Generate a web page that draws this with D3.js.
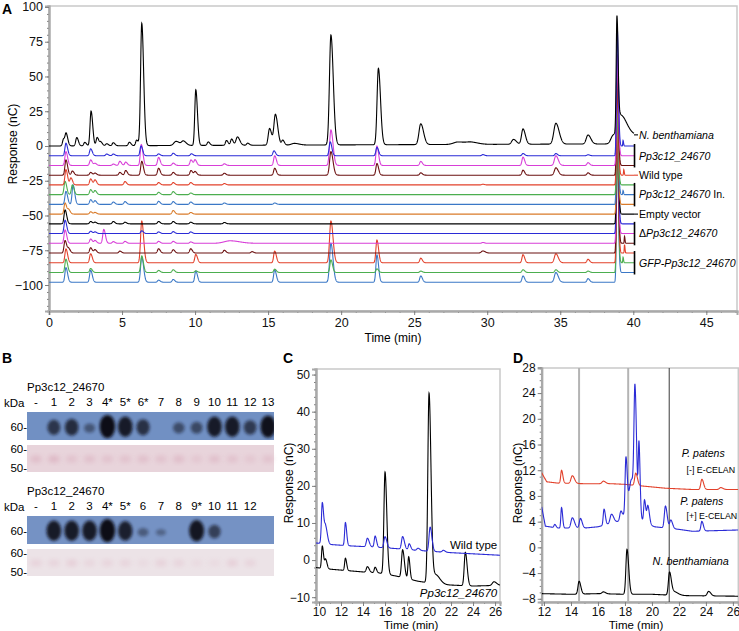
<!DOCTYPE html>
<html>
<head>
<meta charset="utf-8">
<script src="https://cdn.jsdelivr.net/npm/d3@7"></script>
<style>
  body { margin: 0; background: #fff; }
  svg { font-family: "Liberation Sans", Arial, sans-serif; }
</style>
</head>
<body>
<svg id="fig" width="739" height="631"></svg>
<script>
// ---------- Panel A : 15 stacked chromatograms ----------
const aColors = ['#000000', '#2b2bd6', '#d83fd8', '#6b1010', '#e2412b', '#4cae4f', '#3b78c6', '#d97b2a',
  '#000000', '#2b2bd6', '#d83fd8', '#6b1010', '#e2412b', '#4cae4f', '#3b78c6'];
const aOffsets = [0, -7, -14, -21, -28, -35, -42, -49, -56, -63, -70, -77, -84, -91, -98];
// peaks: [retention time (min), height (nC), width]
const aPeaks = [
  // N. benthamiana
  [[1.0, 5], [1.18, 8], [1.9, 6], [2.45, 2.5], [2.88, 25], [3.3, 6], [3.55, 2.5], [3.95, 1.5], [4.4, 2.2], [5.5, 2.5],
   [6.0, 4], [6.35, 88, 0.08], [8.7, 3, 0.15], [9.2, 3, 0.12], [10.05, 40], [10.9, 2.5], [12.15, 3.5], [12.5, 4.5],
   [12.9, 6, 0.1], [13.6, 1.5], [15.1, 12, 0.09], [15.5, 22, 0.1], [16.0, 3.5], [16.8, 1.2, 0.2], [19.3, 79, 0.1],
   [22.55, 55, 0.09], [25.45, 15, 0.12], [28.0, 1.8, 0.3], [28.9, 1.5, 0.3], [31.8, 3.5, 0.12], [32.45, 11, 0.1],
   [34.7, 15, 0.14], [36.9, 6.5, 0.12], [38.6, 5, 0.15], [38.88, 82, 0.05], [39.15, 14, 0.25]],
  // Pp3c12_24670
  [[1.16, 9], [2.85, 5], [3.95, 1.2], [4.4, 1.2], [6.3, 7], [7.5, 1.3], [8.5, 1.8], [9.75, 1.4], [15.4, 3.5],
   [19.25, 10], [22.45, 6], [29.7, 0.8], [32.45, 1.6], [34.7, 1.6], [36.9, 0.7], [38.9, 92, 0.05], [39.3, 4, 0.02]],
  [[1.16, 10], [2.85, 4], [3.15, 1.5], [4.4, 1], [4.85, 3], [5.25, 2.4], [6.32, 15], [7.5, 5.8], [8.5, 1.7], [9.72, 4],
   [10.0, 4], [12.0, 1.2], [15.45, 7], [19.3, 25.6, 0.09], [22.45, 14], [25.45, 2.9], [32.45, 6], [34.7, 7, 0.1],
   [36.9, 2], [38.9, 80, 0.05]],
  [[1.16, 11], [1.6, 3], [2.85, 2], [3.15, 1.5], [4.85, 2], [5.25, 3.4], [6.35, 10], [7.5, 5], [8.5, 2], [9.72, 3.4],
   [10.0, 2.6], [12.0, 1.4], [15.45, 5], [19.3, 17, 0.09], [22.45, 8.4], [25.45, 1.7], [32.45, 3.6], [34.7, 5.3, 0.1],
   [36.9, 1.7], [38.9, 75, 0.05]],
  // Wild type
  [[1.16, 11], [1.5, 5], [2.85, 4.3], [3.15, 3.6], [5.2, 2.4], [7.5, 1.7], [8.5, 1.7], [9.7, 1.7], [12.0, 1],
   [29.7, 0.5], [38.9, 70, 0.05], [39.35, 4, 0.02]],
  // Pp3c12_24670 In.
  [[1.1, 9.6], [1.6, 7], [2.85, 3.6], [3.15, 2.9], [7.5, 1.7], [8.5, 2.2], [9.7, 1.2], [38.9, 60, 0.05]],
  [[1.16, 9.4], [1.65, 14], [2.85, 3.4], [3.15, 2.6], [4.4, 1.7], [5.2, 2], [7.5, 2.2], [8.5, 2], [9.7, 1.7], [12.0, 1],
   [15.45, 1], [38.9, 80, 0.05], [39.3, 3, 0.02]],
  [[1.1, 8], [1.35, 3], [2.85, 1.7], [3.15, 1.2], [8.5, 2.6], [9.7, 1.2], [38.9, 65, 0.05]],
  // Empty vector
  [[1.1, 10], [2.85, 1.7], [3.15, 1.2], [4.4, 1.7], [5.2, 1.2], [7.5, 1.7], [8.5, 1.7], [9.7, 1.2], [12.0, 1],
   [38.9, 90, 0.05]],
  // delta Pp3c12_24670
  [[1.1, 9.6], [2.85, 1.7], [3.15, 1.2], [6.35, 2], [7.5, 1.2], [8.5, 1.4], [9.7, 1.2], [38.9, 100, 0.05]],
  [[1.1, 9.6], [2.85, 3.1], [3.15, 2], [3.75, 10], [4.4, 1.2], [5.2, 1.4], [7.5, 1.4], [8.5, 1.4], [9.7, 1],
   [12.4, 1.8, 0.4], [29.7, 0.6], [38.9, 95, 0.05]],
  [[1.1, 9], [1.35, 3], [2.85, 3.8], [3.15, 2.4], [4.85, 1.4], [7.5, 3.1], [8.5, 2.4], [9.7, 3.1], [12.0, 2],
   [13.9, 1], [29.7, 1.5, 0.1], [38.9, 95, 0.05], [39.4, 5, 0.02]],
  // GFP-Pp3c12_24670
  [[1.16, 10], [2.85, 6.5], [6.35, 30, 0.08], [10.05, 6], [15.45, 8.4], [19.3, 30, 0.09], [22.45, 16.3], [25.45, 3.3],
   [32.45, 5.8], [34.7, 6.5, 0.1], [36.9, 2.5], [38.9, 100, 0.05], [39.4, 6, 0.02]],
  [[1.16, 9.6], [2.85, 2.9], [6.35, 12], [7.5, 1.5], [8.5, 2], [10.05, 1.2], [15.45, 2.4], [19.3, 9], [22.45, 2.6],
   [25.45, 1], [32.45, 2], [34.7, 2], [36.9, 1], [38.9, 90, 0.05], [39.3, 4, 0.02]],
  [[1.16, 10.5], [2.85, 8.6], [6.35, 18, 0.08], [7.5, 1.5], [8.5, 2], [10.05, 8], [15.45, 8.9], [19.3, 28, 0.09],
   [22.45, 19.7], [25.45, 4.5], [32.45, 4.5], [34.7, 7, 0.1], [36.9, 2.6], [38.9, 100, 0.05]]
];
// baseline: flat, rises after the late eluting peak
const aBase = [[0, 0], [38.95, 0], [39.1, 7], [40.05, 7]];
const aBaseBlack = [[0, 0], [20, 0.8], [38.9, 1.5], [39.1, 8], [40.05, 8]];
const aLabelParts = [
  [['N. benthamiana', true]],
  [['Pp3c12_24670', true]],
  [['Wild type', false]],
  [['Pp3c12_24670', true], [' In.', false]],
  [['Empty vector', false]],
  [['\u0394', false], ['Pp3c12_24670', true]],
  [['GFP-Pp3c12_24670', true]]
];
const aLabelTraces = [[0], [1, 2, 3], [4], [5, 6, 7], [8], [9, 10, 11], [12, 13, 14]];
const aYTicks = [-100, -75, -50, -25, 0, 25, 50, 75, 100];
const aXTicks = [0, 5, 10, 15, 20, 25, 30, 35, 40, 45];

// ---------- Panel B : western blots ----------
const bLanesTop = ['-', '1', '2', '3', '4*', '5*', '6*', '7', '8', '9', '10', '11', '12', '13'];
const bBandsTop = [0, 0.55, 0.65, 0.2, 1, 0.85, 0.6, 0, 0.3, 0.35, 0.85, 0.85, 0.5, 0.95];
const bPonceauTop = [0.5, 0.6, 0.4, 0.45, 0.4, 0.4, 0.45, 0.4, 0.5, 0.3, 0.45, 0.4, 0.3, 0.4];
const bLanesBottom = ['-', '1', '2', '3', '4*', '5*', '6', '7', '8', '9*', '10', '11', '12'];
const bBandsBottom = [0, 0.85, 0.85, 0.85, 1, 0.8, 0.15, 0.04, 0, 0.9, 0.45, 0, 0, 0];
const bPonceauBottom = [0.4, 0.35, 0.45, 0.3, 0.35, 0.35, 0.2, 0.4, 0.35, 0.2, 0.2, 0.45, 0.35, 0];

// ---------- Panel C ----------
const cWildBase = [[9.7, 4.6], [10.2, 4.5], [11, 4.2], [13, 3.8], [15, 3.5], [17, 3.1], [19, 2.6], [22, 2], [26.45, 1.3]];
const cWildPeaks = [[10.3, 11, 0.08], [10.6, 4.5, 0.1], [12.4, 6.2, 0.07], [14.4, 2.3, 0.1], [15.1, 3, 0.08],
  [16.0, 3, 0.1], [17.6, 3.4, 0.1], [18.2, 1.6, 0.08], [19.0, 0.6, 0.1], [20.1, 6.5, 0.1], [21.3, 0.5, 0.1]];
const cMutBase = [[9.7, -2], [10.8, -2.4], [12, -2.7], [14, -3.2], [15.5, -3.5], [17, -4.3], [19, -5.7], [21, -6.6],
  [24, -7], [26.45, -6.8]];
const cMutPeaks = [[10.3, 6, 0.07], [10.6, 2.5, 0.08], [12.4, 3.3, 0.07], [14.4, 1.5, 0.1], [15.1, 1.5, 0.08],
  [16.0, 27.5, 0.1], [17.6, 7.5, 0.1], [18.15, 6, 0.07], [20.0, 51, 0.11], [20.6, 2.5, 0.25], [23.3, 9, 0.1],
  [25.9, 1, 0.15]];
const cYTicks = [-10, 0, 10, 20, 30, 40, 50];
const cXTicks = [10, 12, 14, 16, 18, 20, 22, 24, 26];

// ---------- Panel D ----------
const dMinusBase = [[11.83, 11.6], [12.2, 10.2], [13, 10.0], [15, 9.9], [17, 9.9], [18, 9.8], [19.5, 9.5], [21, 9.2],
  [23, 9.0], [26.4, 9.0]];
const dMinusPeaks = [[13.3, 2, 0.06], [14.1, 1.2, 0.1], [16.4, 0.4, 0.1], [18.8, 1.9, 0.08], [23.7, 1.6, 0.08],
  [25.1, 0.3, 0.1]];
const dPlusBase = [[11.83, 6.3], [12.1, 3.3], [13, 3.0], [15, 3.0], [16, 3.2], [17.8, 4.2], [18.0, 5.0], [20.2, 3.2],
  [22, 2.8], [23, 2.5], [26.4, 2.7]];
const dPlusPeaks = [[12.8, 0.5, 0.06], [13.3, 3.2, 0.05], [14.1, 1.6, 0.1], [14.7, 1.5, 0.08], [16.45, 2.5, 0.06],
  [17.0, 1.4, 0.1], [17.7, 1.5, 0.08], [18.07, 8.5, 0.06], [18.5, 6, 0.2], [18.74, 16.5, 0.07], [19.04, 10.5, 0.05],
  [19.45, 3.5, 0.06], [19.7, 2.8, 0.07], [21.0, 3.4, 0.08], [21.4, 1.3, 0.08], [23.7, 1.5, 0.07]];
const dBenthBase = [[11.83, -7.2], [14, -7.3], [16, -7.2], [18, -7.3], [20, -7.3], [22, -7.5], [26.4, -7.6]];
const dBenthPeaks = [[14.6, 2, 0.08], [16.4, 0.3, 0.1], [18.15, 7, 0.08], [21.3, 3.4, 0.08], [21.6, 0.6, 0.2],
  [24.2, 0.7, 0.1]];
const dMarkers = [14.6, 18.24, 21.28];
const dYTicks = [-8, -4, 0, 4, 8, 12, 16, 20, 24, 28];
const dXTicks = [12, 14, 16, 18, 20, 22, 24, 26];

// ---------- helpers ----------
const svg = d3.select('#fig');

// chromatogram trace from baseline points and peak table
const chrom = (peaks, base, t0, t1, offset = 0) => {
  const bl = d3.scaleLinear().domain(base.map(d => d[0])).range(base.map(d => d[1])).clamp(true);
  const ts = d3.range(t0, t1, 0.01).concat([t1]);
  return ts.map(t => {
    let v = offset + bl(t);
    for (const [c, h, w = 0.07] of peaks) {
      const s = t < c ? w : w * 1.6;
      v += h * Math.exp(-0.5 * ((t - c) / s) ** 2);
    }
    return [t, v];
  });
};

const styleAxis = (g, size) => {
  g.attr('font-family', null);
  g.select('.domain').attr('stroke', '#a9a9a9').attr('stroke-width', 2);
  g.selectAll('.tick line').attr('stroke', '#808080');
  g.selectAll('.tick text').attr('font-size', size).attr('fill', '#111');
};

const drawFrame = (g, x, y, xTicks, yTicks, xMinor, yMinor, id, size) => {
  const [x0, x1] = x.range();
  const [y0, y1] = y.range();
  g.append('rect').attr('x', x0).attr('y', y1).attr('width', x1 - x0).attr('height', y0 - y1)
    .attr('fill', 'none').attr('stroke', '#c9c9c9').attr('stroke-width', 1.5);
  g.append('defs').append('clipPath').attr('id', id)
    .append('rect').attr('x', x0).attr('y', y1).attr('width', x1 - x0).attr('height', y0 - y1);

  g.append('g').attr('transform', `translate(${x0},0)`)
    .call(d3.axisLeft(y).tickValues(yMinor).tickSize(2).tickFormat(''))
    .call(s => styleAxis(s, size));
  g.append('g').attr('transform', `translate(${x0},0)`)
    .call(d3.axisLeft(y).tickValues(yTicks).tickSize(4).tickPadding(2))
    .call(s => styleAxis(s, size));
  g.append('g').attr('transform', `translate(0,${y0})`)
    .call(d3.axisBottom(x).tickValues(xMinor).tickSize(2).tickFormat(''))
    .call(s => styleAxis(s, size));
  g.append('g').attr('transform', `translate(0,${y0})`)
    .call(d3.axisBottom(x).tickValues(xTicks).tickSize(4).tickPadding(size < 12.5 ? 1.5 : 3))
    .call(s => styleAxis(s, size));
};

const panelLetter = (x, y, t) => svg.append('text').attr('x', x).attr('y', y).attr('font-size', 14)
  .attr('font-weight', 'bold').text(t);

const yTitle = (x, y, size = 12.5) => svg.append('text').attr('transform', `translate(${x},${y}) rotate(-90)`)
  .attr('text-anchor', 'middle').attr('font-size', size).text('Response (nC)');

const xTitle = (x, y, size = 12.5) => svg.append('text').attr('x', x).attr('y', y)
  .attr('text-anchor', 'middle').attr('font-size', size).text('Time (min)');

// ---------- draw panel A ----------
const drawPanelA = () => {
  const g = svg.append('g');
  const x = d3.scaleLinear().domain([0, 47.1]).range([49, 737]);
  const y = d3.scaleLinear().domain([-118.7, 100.7]).range([311, 6]);
  drawFrame(g, x, y, aXTicks, aYTicks, d3.range(0, 48, 1), d3.range(-115, 101, 5), 'clipA', 12.5);

  const line = d3.line().x(d => x(d[0])).y(d => y(d[1]));
  const tEnd = 40.05;
  const traces = g.append('g').attr('clip-path', 'url(#clipA)');
  // draw bottom trace first so the top trace sits above
  d3.range(aPeaks.length).reverse().forEach(i => {
    const pts = chrom(aPeaks[i], i === 0 ? aBaseBlack : aBase, 0, tEnd, aOffsets[i]);
    traces.append('path').attr('d', line(pts)).attr('fill', 'none')
      .attr('stroke', aColors[i]).attr('stroke-width', 1.1);
  });

  const endY = i => y(aOffsets[i] + (i === 0 ? 8 : 7));
  const xe = x(tEnd);
  aLabelTraces.forEach((tr, k) => {
    const ys = tr.map(endY);
    if (tr.length > 1) {
      g.append('line').attr('x1', xe + 0.5).attr('x2', xe + 0.5)
        .attr('y1', d3.min(ys) - 2).attr('y2', d3.max(ys) + 2)
        .attr('stroke', '#000').attr('stroke-width', 1.6);
    } else {
      g.append('line').attr('x1', xe).attr('x2', xe + 4).attr('y1', ys[0]).attr('y2', ys[0])
        .attr('stroke', aColors[tr[0]]).attr('stroke-width', 1.1);
    }
    const t = g.append('text').attr('x', xe + 5).attr('y', d3.mean(ys)).attr('dy', '0.36em')
      .attr('font-size', 10.6);
    aLabelParts[k].forEach(([s, it]) => t.append('tspan').attr('font-style', it ? 'italic' : 'normal').text(s));
  });

  panelLetter(2, 14, 'A');
  yTitle(17, 144, 12);
  xTitle(393, 342, 12);
};

// ---------- draw panel B ----------
const drawPanelB = () => {
  const g = svg.append('g');
  const defs = g.append('defs');
  defs.append('filter').attr('id', 'blurBand').attr('x', '-50%').attr('y', '-50%')
    .attr('width', '200%').attr('height', '200%')
    .append('feGaussianBlur').attr('stdDeviation', 1.8);
  defs.append('filter').attr('id', 'blurPon').attr('x', '-50%').attr('y', '-50%')
    .attr('width', '200%').attr('height', '200%')
    .append('feGaussianBlur').attr('stdDeviation', 2.5);

  const lane = d3.scalePoint().domain(d3.range(14)).range([36, 268]);
  const blotX0 = 27, blotX1 = 274;

  const blot = (top, labels, bands, ponceau, blueFill, pinkFill, spot, id) => {
    g.append('text').attr('x', 27).attr('y', top - 18).attr('font-size', 11.5).text('Pp3c12_24670');
    g.append('text').attr('x', 4).attr('y', top - 2).attr('font-size', 11.5).text('kDa');
    labels.forEach((l, i) => g.append('text').attr('x', lane(i)).attr('y', top - 3)
      .attr('text-anchor', 'middle').attr('font-size', 11.5).text(l));

    const by = top + 3, bh = 28;
    g.append('defs').append('clipPath').attr('id', id)
      .append('rect').attr('x', blotX0).attr('y', by).attr('width', blotX1 - blotX0).attr('height', bh);
    g.append('rect').attr('x', blotX0).attr('y', by).attr('width', blotX1 - blotX0).attr('height', bh)
      .attr('fill', blueFill);
    const bandG = g.append('g').attr('clip-path', `url(#${id})`);
    bands.forEach((v, i) => {
      if (v <= 0) return;
      bandG.append('ellipse').attr('cx', lane(i)).attr('cy', by + bh / 2 + 2.5 - 2 * v)
        .attr('rx', 5 + 2.8 * v).attr('ry', 3 + 8.5 * v)
        .attr('fill', '#111118').attr('opacity', 0.3 + 0.7 * v).attr('filter', 'url(#blurBand)');
    });
    g.append('text').attr('x', 27).attr('y', by + bh / 2 + 5).attr('text-anchor', 'end')
      .attr('font-size', 11.5).text('60-');

    const py = by + bh + 5, ph = 27;
    g.append('rect').attr('x', blotX0).attr('y', py).attr('width', blotX1 - blotX0).attr('height', ph)
      .attr('fill', pinkFill);
    ponceau.forEach((v, i) => {
      if (v <= 0) return;
      g.append('ellipse').attr('cx', lane(i)).attr('cy', py + 14).attr('rx', 6).attr('ry', 3.5)
        .attr('fill', spot).attr('opacity', v * 0.7).attr('filter', 'url(#blurPon)');
    });
    g.append('text').attr('x', 27).attr('y', py + 8).attr('text-anchor', 'end')
      .attr('font-size', 11.5).text('60-');
    g.append('text').attr('x', 27).attr('y', py + 27).attr('text-anchor', 'end')
      .attr('font-size', 11.5).text('50-');
  };

  blot(409, bLanesTop, bBandsTop, bPonceauTop, '#7190c3', '#e8d4db', '#cf8ea4', 'clipB1');
  blot(513, bLanesBottom, bBandsBottom, bPonceauBottom, '#7592c4', '#ece3e7', '#d9a3b6', 'clipB2');
  panelLetter(2, 363, 'B');
};

// ---------- draw panel C ----------
const drawPanelC = () => {
  const g = svg.append('g');
  const x = d3.scaleLinear().domain([9.727, 26.45]).range([316, 500]);
  const y = d3.scaleLinear().domain([-11.3, 51.5]).range([602, 369]);
  drawFrame(g, x, y, cXTicks, cYTicks, d3.range(10, 27, 1), d3.range(-10, 51, 2), 'clipC', 12);
  const line = d3.line().x(d => x(d[0])).y(d => y(d[1]));
  const tr = g.append('g').attr('clip-path', 'url(#clipC)');
  tr.append('path').attr('d', line(chrom(cMutPeaks, cMutBase, 9.73, 26.45))).attr('fill', 'none')
    .attr('stroke', '#000').attr('stroke-width', 1.1);
  tr.append('path').attr('d', line(chrom(cWildPeaks, cWildBase, 9.73, 26.45))).attr('fill', 'none')
    .attr('stroke', '#2b2bd6').attr('stroke-width', 1.1);
  g.append('text').attr('x', x(26.2)).attr('y', y(3)).attr('text-anchor', 'end')
    .attr('font-size', 11.5).text('Wild type');
  g.append('text').attr('x', x(26.2)).attr('y', y(-10)).attr('text-anchor', 'end')
    .attr('font-size', 11.5).attr('font-style', 'italic').text('Pp3c12_24670');
  panelLetter(283, 363, 'C');
  yTitle(293, 483, 12);
  xTitle(411, 628.5, 11.5);
};

// ---------- draw panel D ----------
const drawPanelD = () => {
  const g = svg.append('g');
  const x = d3.scaleLinear().domain([11.83, 26.4]).range([541.7, 738.3]);
  const y = d3.scaleLinear().domain([-8.5, 27.9]).range([602, 368]);
  drawFrame(g, x, y, dXTicks, dYTicks, d3.range(12, 27, 1), d3.range(-8, 28, 1), 'clipD', 12);
  dMarkers.forEach((t, i) => g.append('line').attr('x1', x(t)).attr('x2', x(t))
    .attr('y1', y.range()[1]).attr('y2', y.range()[0])
    .attr('stroke', i < 2 ? '#b4b4b4' : '#3a3a3a').attr('stroke-width', i < 2 ? 2 : 1));
  const line = d3.line().x(d => x(d[0])).y(d => y(d[1]));
  const tr = g.append('g').attr('clip-path', 'url(#clipD)');
  tr.append('path').attr('d', line(chrom(dBenthPeaks, dBenthBase, 11.83, 26.4))).attr('fill', 'none')
    .attr('stroke', '#000').attr('stroke-width', 1.1);
  tr.append('path').attr('d', line(chrom(dMinusPeaks, dMinusBase, 11.83, 26.4))).attr('fill', 'none')
    .attr('stroke', '#e2412b').attr('stroke-width', 1.1);
  tr.append('path').attr('d', line(chrom(dPlusPeaks, dPlusBase, 11.83, 26.4))).attr('fill', 'none')
    .attr('stroke', '#2b2bd6').attr('stroke-width', 1.1);

  g.append('text').attr('x', x(22.2)).attr('y', y(14)).attr('font-size', 10.5)
    .attr('font-style', 'italic').text('P. patens');
  g.append('text').attr('x', x(22.57)).attr('y', y(11.5)).attr('font-size', 8.8).text('[-] E-CELAN');
  g.append('text').attr('x', x(22.1)).attr('y', y(6.6)).attr('font-size', 10.5)
    .attr('font-style', 'italic').text('P. patens');
  g.append('text').attr('x', x(22.57)).attr('y', y(4.4)).attr('font-size', 8.8).text('[+] E-CELAN');
  g.append('text').attr('x', x(20.05)).attr('y', y(-2.7)).attr('font-size', 10.8)
    .attr('font-style', 'italic').text('N. benthamiana');
  panelLetter(513, 363, 'D');
  yTitle(522, 483, 12);
  xTitle(636, 628.5, 11.5);
};

drawPanelA();
drawPanelB();
drawPanelC();
drawPanelD();
</script>
</body>
</html>
